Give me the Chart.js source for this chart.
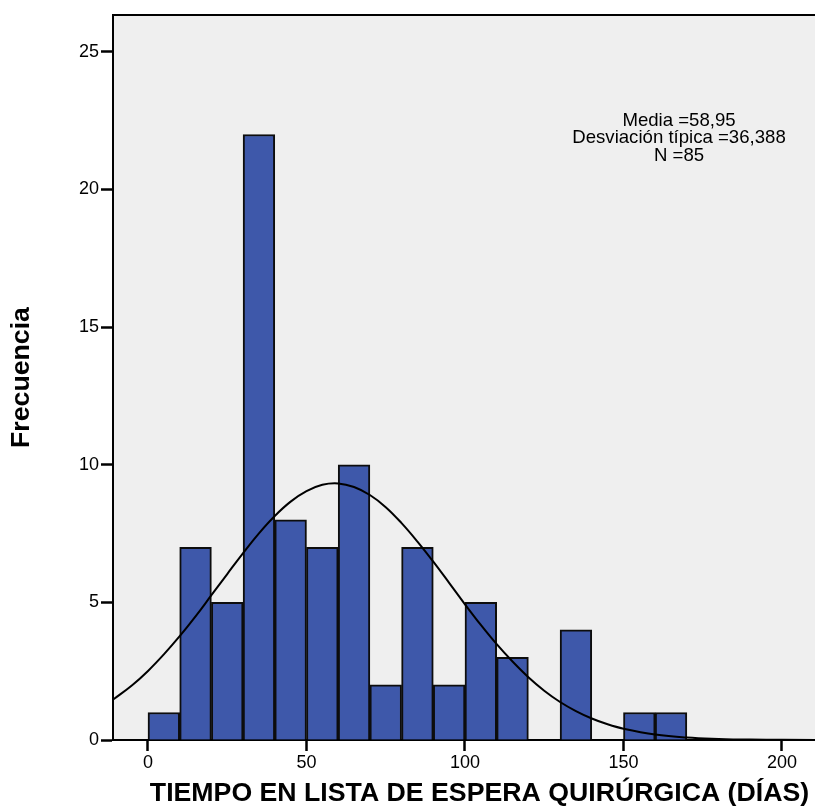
<!DOCTYPE html>
<html>
<head>
<meta charset="utf-8">
<script src="https://cdn.jsdelivr.net/npm/chart.js@4/dist/chart.umd.min.js"></script>
<style>
  html, body { margin: 0; padding: 0; background: #ffffff; overflow: hidden; }
  #wrap { width: 815px; height: 809px; overflow: hidden; position: relative; }
  canvas { display: block; }
</style>
</head>
<body>
<div id="wrap"><canvas id="c" width="846" height="809"></canvas></div>
<script>
// Histogram bins (centre of each 10-day bin) and frequencies
const binCenters = [5, 15, 25, 35, 45, 55, 65, 75, 85, 95, 105, 115, 125, 135, 145, 155, 165];
const frequencies = [1, 7, 5, 22, 8, 7, 10, 2, 7, 2, 5, 3, 0, 4, 0, 1, 1];

// Normal curve
const curveX = [-11, -5, 0, 5, 10, 15, 20, 25, 30, 35, 40, 45, 50, 55, 60, 65, 70, 75, 80, 85, 90, 95, 100, 105, 110, 115, 120, 125, 130, 135, 140, 145, 150, 160, 170, 180, 190, 200, 221];
const curveY = [1.47, 1.99, 2.51, 3.11, 3.77, 4.49, 5.26, 6.03, 6.79, 7.51, 8.14, 8.66, 9.04, 9.27, 9.32, 9.19, 8.90, 8.46, 7.88, 7.21, 6.48, 5.71, 4.93, 4.18, 3.48, 2.85, 2.28, 1.79, 1.38, 1.05, 0.78, 0.57, 0.41, 0.20, 0.09, 0.04, 0.014, 0.005, 0.001];

const statsLines = ['Media =58,95', 'Desviación típica =36,388', 'N =85'];
const xTitle = 'TIEMPO EN LISTA DE ESPERA QUIRÚRGICA (DÍAS)';
const yTitle = 'Frecuencia';

const FONT = '"Liberation Sans", Arial, sans-serif';

const barData = binCenters.map((x, i) => ({ x: x, y: frequencies[i] }));
const curveData = curveX.map((x, i) => ({ x: x, y: curveY[i] }));

const bgPlugin = {
  id: 'bg',
  beforeDraw(chart) {
    const { ctx, chartArea: a } = chart;
    ctx.save();
    ctx.fillStyle = '#efefef';
    ctx.fillRect(a.left, a.top, a.right - a.left, a.bottom - a.top);
    ctx.restore();
  },
  afterDraw(chart) {
    const { ctx, chartArea: a } = chart;
    ctx.save();
    ctx.strokeStyle = '#000';
    ctx.lineWidth = 2;
    ctx.beginPath();
    ctx.moveTo(a.left - 1, a.top);
    ctx.lineTo(a.right, a.top);
    ctx.stroke();
    ctx.fillStyle = '#000';
    ctx.font = '18.6px ' + FONT;
    ctx.textAlign = 'center';
    ctx.textBaseline = 'alphabetic';
    const cx = 679;
    statsLines.forEach((t, i) => ctx.fillText(t, cx, 126 + i * 17.3));
    ctx.restore();
  }
};

new Chart(document.getElementById('c'), {
  type: 'bar',
  data: {
    datasets: [
      {
        type: 'line',
        data: curveData,
        borderColor: '#000',
        borderWidth: 2,
        pointRadius: 0,
        tension: 0.4,
        fill: false,
        order: 0
      },
      {
        type: 'bar',
        data: barData,
        backgroundColor: '#3e58aa',
        borderColor: '#0d0d0d',
        borderWidth: 2,
        borderSkipped: 'start',
        barPercentage: 1,
        categoryPercentage: 1,
        order: 1
      }
    ]
  },
  options: {
    responsive: false,
    animation: false,
    events: [],
    layout: { padding: { left: 0, right: 0, top: 15, bottom: 0 } },
    plugins: { legend: { display: false }, tooltip: { enabled: false } },
    scales: {
      x: {
        type: 'linear',
        min: -11.04,
        max: 220.2,
        offset: false,
        grid: { display: true, offset: false, drawOnChartArea: false, drawTicks: true, tickLength: 11, tickColor: '#000', tickWidth: 2.5 },
        border: { display: true, color: '#000', width: 2 },
        ticks: { stepSize: 50, includeBounds: false, color: '#000', font: { family: FONT, size: 18 }, padding: 1, maxRotation: 0 },
        title: { display: true, text: xTitle, color: '#000', font: { family: FONT, size: 26.7, weight: 'bold' }, padding: { top: 0, bottom: -1 } },
        afterFit(scale) { scale.height = 69; }
      },
      y: {
        type: 'linear',
        min: 0,
        max: 26.34,
        grid: { display: true, offset: false, drawOnChartArea: false, drawTicks: true, tickLength: 12, tickColor: '#000', tickWidth: 2.5 },
        border: { display: true, color: '#000', width: 2 },
        ticks: { stepSize: 5, includeBounds: false, color: '#000', font: { family: FONT, size: 18 }, padding: 2 },
        title: { display: true, text: yTitle, color: '#000', font: { family: FONT, size: 26.7, weight: 'bold' }, padding: { top: 6, bottom: 0 } },
        afterFit(scale) { scale.width = 113; }
      }
    }
  },
  plugins: [bgPlugin]
});
</script>
</body>
</html>
